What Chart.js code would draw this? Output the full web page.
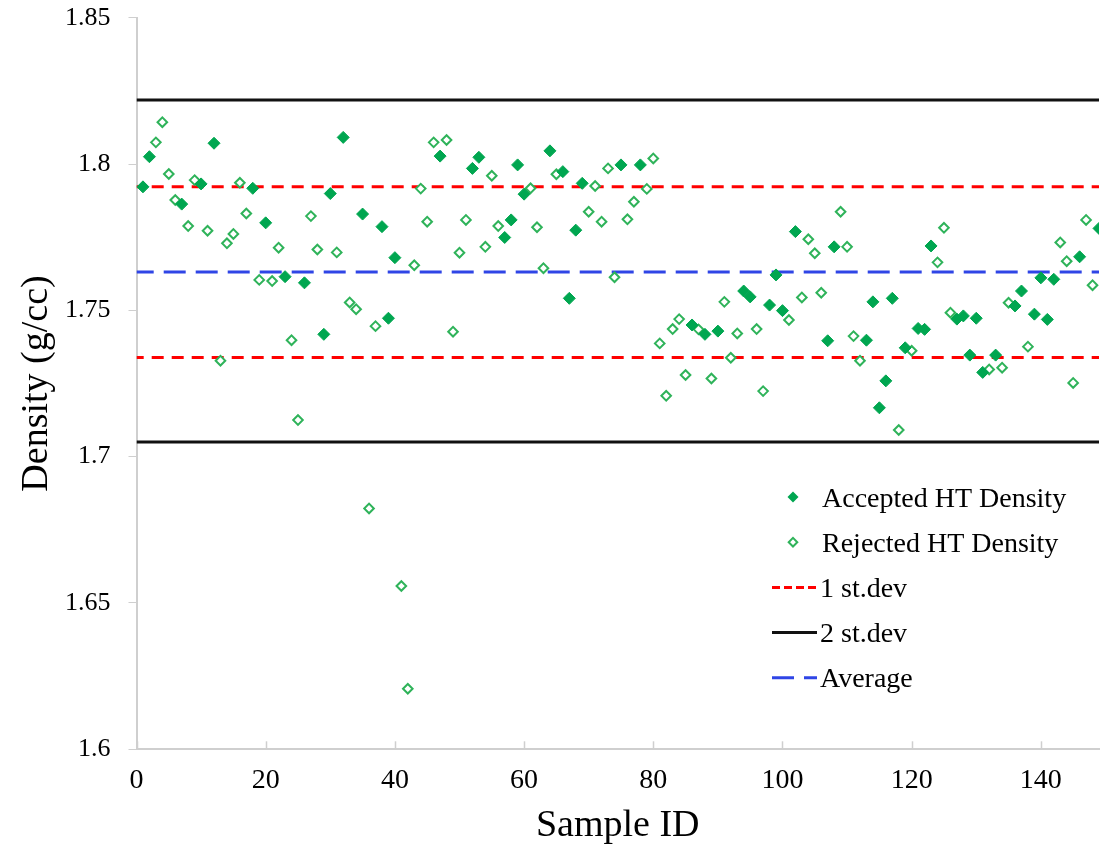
<!DOCTYPE html>
<html>
<head>
<meta charset="utf-8">
<script src="https://cdn.jsdelivr.net/npm/chart.js@4.4.1/dist/chart.umd.min.js"></script>
<style>
  html, body { margin: 0; padding: 0; background: #fff; }
  #wrap { width: 1106px; height: 849px; }
</style>
</head>
<body>
<div id="wrap"><canvas id="densityChart" width="1106" height="849"></canvas></div>
<script>
// Данные
const acceptedIds = [1, 2, 7, 10, 12, 18, 20, 23, 26, 29, 30, 32, 35, 38, 39, 40, 47, 52, 53, 57,
    58, 59, 60, 64, 66, 67, 68, 69, 75, 78, 86, 88, 90, 94, 95, 98, 99, 100, 102, 107,
    108, 113, 114, 115, 116, 117, 119, 121, 122, 123, 127, 128, 129, 130, 131, 133, 136, 137, 139, 140,
    141, 142, 146, 149];
const acceptedDensity = [1.7922, 1.8025, 1.7863, 1.7932, 1.8071, 1.7917, 1.7799, 1.7615, 1.7594, 1.7418,
    1.7899, 1.8091, 1.7829, 1.7786, 1.7473, 1.7680, 1.8027, 1.7985, 1.8023, 1.7749,
    1.7809, 1.7997, 1.7897, 1.8045, 1.7974, 1.7541, 1.7774, 1.7934, 1.7997, 1.7997,
    1.7450, 1.7418, 1.7429, 1.7566, 1.7546, 1.7518, 1.7621, 1.7499, 1.7769, 1.7396,
    1.7717, 1.7398, 1.7529, 1.7167, 1.7259, 1.7541, 1.7372, 1.7438, 1.7435, 1.7720,
    1.7470, 1.7481, 1.7347, 1.7473, 1.7288, 1.7347, 1.7515, 1.7566, 1.7487, 1.7611,
    1.7469, 1.7606, 1.7683, 1.7780];

const rejectedIds = [3, 4, 5, 6, 8, 9, 11, 13, 14, 15, 16, 17, 19, 21, 22, 24, 25, 27, 28, 31,
    33, 34, 36, 37, 41, 42, 43, 44, 45, 46, 48, 49, 50, 51, 54, 55, 56, 61, 62, 63,
    65, 70, 71, 72, 73, 74, 76, 77, 79, 80, 81, 82, 83, 84, 85, 87, 89, 91, 92, 93,
    96, 97, 101, 103, 104, 105, 106, 109, 110, 111, 112, 118, 120, 124, 125, 126, 132, 134, 135, 138,
    143, 144, 145, 147, 148];
const rejectedDensity = [1.8074, 1.8143, 1.7966, 1.7877, 1.7788, 1.7945, 1.7772, 1.7328, 1.7729, 1.7761,
    1.7936, 1.7831, 1.7604, 1.7600, 1.7714, 1.7398, 1.7125, 1.7822, 1.7708, 1.7698,
    1.7527, 1.7504, 1.6823, 1.7446, 1.6558, 1.6207, 1.7654, 1.7916, 1.7803, 1.8074,
    1.8082, 1.7427, 1.7697, 1.7809, 1.7717, 1.7960, 1.7788, 1.7917, 1.7784, 1.7644,
    1.7965, 1.7837, 1.7925, 1.7803, 1.7985, 1.7613, 1.7811, 1.7871, 1.7915, 1.8019,
    1.7387, 1.7208, 1.7436, 1.7470, 1.7279, 1.7435, 1.7267, 1.7529, 1.7338, 1.7421,
    1.7436, 1.7224, 1.7467, 1.7544, 1.7743, 1.7695, 1.7560, 1.7837, 1.7717, 1.7412,
    1.7328, 1.7091, 1.7362, 1.7664, 1.7782, 1.7492, 1.7298, 1.7304, 1.7526, 1.7376,
    1.7732, 1.7668, 1.7252, 1.7809, 1.7586];

// Уровни контрольных линий
const averageLevel = 1.7631;
const sd1Levels = [1.7922, 1.7339];
const sd2Levels = [1.8219, 1.7050];

// Оси и подписи делений
const xRange = [0, 149];
const xTickValues = [0, 20, 40, 60, 80, 100, 120, 140];
const yRange = [1.6, 1.85];
const yTickStep = 0.05;

const legendLabels = ['Accepted HT Density', 'Rejected HT Density', '1 st.dev', '2 st.dev', 'Average'];

const FONT = '"Liberation Serif", "Times New Roman", serif';
const GREEN_FILLED = '#00a650';
const GREEN_OPEN = '#2fb35a';
const RED = '#ff0000';
const BLUE = '#2f45e6';
const AXIS_GRAY = '#cfcfcf';

function toPoints(ids, values) {
    return ids.map((id, i) => ({ x: id, y: values[i] }));
}

function levelLine(level) {
    return [{ x: xRange[0], y: level }, { x: xRange[1], y: level }];
}

function lineDataset(label, level, color, dash) {
    return {
        label: label,
        data: levelLine(level),
        showLine: true,
        borderColor: color,
        borderWidth: 3,
        borderDash: dash,
        borderDashOffset: 4.8,
        pointRadius: 0,
        fill: false,
        clip: 0
    };
}

// Короткие засечки оси X внутрь области графика
const xInnerTicks = {
    id: 'xInnerTicks',
    afterDraw(chart) {
        const ctx = chart.ctx;
        const scale = chart.scales.x;
        const bottom = chart.chartArea.bottom;
        ctx.save();
        ctx.strokeStyle = AXIS_GRAY;
        ctx.lineWidth = 1.5;
        scale.ticks.forEach(t => {
            const px = Math.round(scale.getPixelForValue(t.value)) + 0.5;
            ctx.beginPath();
            ctx.moveTo(px, bottom);
            ctx.lineTo(px, bottom - 8);
            ctx.stroke();
        });
        ctx.restore();
    }
};

// Легенда справа внизу, как в исходнике
const sideLegend = {
    id: 'sideLegend',
    afterDraw(chart) {
        const ctx = chart.ctx;
        const startY = 497;
        const step = 45.2;
        ctx.save();
        ctx.font = '28px ' + FONT;
        ctx.fillStyle = '#000';
        ctx.textBaseline = 'alphabetic';
        legendLabels.forEach((text, i) => {
            const y = startY + i * step;
            if (i < 2) {
                const r = i === 0 ? 5.5 : 4.3;
                ctx.beginPath();
                ctx.moveTo(793 - r, y);
                ctx.lineTo(793, y - r);
                ctx.lineTo(793 + r, y);
                ctx.lineTo(793, y + r);
                ctx.closePath();
                if (i === 0) {
                    ctx.fillStyle = GREEN_FILLED;
                    ctx.fill();
                } else {
                    ctx.fillStyle = '#fff';
                    ctx.fill();
                    ctx.strokeStyle = GREEN_OPEN;
                    ctx.lineWidth = 2;
                    ctx.stroke();
                }
                ctx.fillStyle = '#000';
                ctx.fillText(text, 822, y + 9.5);
            } else {
                const colors = [RED, '#111', BLUE];
                const dashes = [[8, 4], [], [22, 10]];
                ctx.beginPath();
                ctx.setLineDash(dashes[i - 2]);
                ctx.strokeStyle = colors[i - 2];
                ctx.lineWidth = 3;
                ctx.moveTo(772, y);
                ctx.lineTo(817, y);
                ctx.stroke();
                ctx.setLineDash([]);
                ctx.fillText(text, 820, y + 9.5);
            }
        });
        ctx.restore();
    }
};

new Chart(document.getElementById('densityChart'), {
    type: 'scatter',
    data: {
        datasets: [
            {
                label: legendLabels[0],
                data: toPoints(acceptedIds, acceptedDensity),
                pointStyle: 'rectRot',
                pointRadius: 6,
                backgroundColor: GREEN_FILLED,
                borderColor: GREEN_FILLED,
                borderWidth: 1,
                clip: 0
            },
            {
                label: legendLabels[1],
                data: toPoints(rejectedIds, rejectedDensity),
                pointStyle: 'rectRot',
                pointRadius: 4.8,
                backgroundColor: '#ffffff',
                borderColor: GREEN_OPEN,
                borderWidth: 2,
                clip: 0
            },
            lineDataset('1 st.dev', sd1Levels[0], RED, [12, 8]),
            lineDataset('1 st.dev', sd1Levels[1], RED, [12, 8]),
            lineDataset('2 st.dev', sd2Levels[0], '#111', []),
            lineDataset('2 st.dev', sd2Levels[1], '#111', []),
            lineDataset('Average', averageLevel, BLUE, [22, 10])
        ]
    },
    options: {
        responsive: false,
        animation: false,
        devicePixelRatio: 1,
        layout: {
            padding: { top: 17.7, right: 0, left: 0, bottom: 0 }
        },
        plugins: {
            legend: { display: false },
            tooltip: { enabled: false }
        },
        scales: {
            x: {
                type: 'linear',
                min: xRange[0],
                max: xRange[1],
                afterBuildTicks: function(scale) {
                    scale.ticks = xTickValues.map(v => ({ value: v }));
                },
                afterFit: function(scale) {
                    scale.height = 99.7;
                    scale.paddingLeft = 0;
                    scale.paddingRight = 0;
                },
                ticks: {
                    color: '#000',
                    padding: 15,
                    maxRotation: 0,
                    autoSkip: false,
                    font: { family: FONT, size: 28 }
                },
                grid: {
                    drawOnChartArea: false,
                    drawTicks: false
                },
                border: { color: AXIS_GRAY, width: 2 },
                title: {
                    display: true,
                    text: 'Sample ID',
                    color: '#000',
                    padding: { top: 0, bottom: 0 },
                    font: { family: FONT, size: 38 }
                }
            },
            y: {
                min: yRange[0],
                max: yRange[1],
                afterFit: function(scale) {
                    scale.width = 136.5;
                    // убираем лишний отступ сверху под подпись 1.85
                    scale.paddingTop = 0;
                    scale.paddingBottom = 0;
                },
                ticks: {
                    stepSize: yTickStep,
                    color: '#000',
                    padding: 18,
                    font: { family: FONT, size: 26 },
                    callback: function(value) {
                        return String(Number(value.toFixed(2)));
                    }
                },
                grid: {
                    drawOnChartArea: false,
                    drawTicks: true,
                    tickLength: 8,
                    color: AXIS_GRAY
                },
                border: { color: AXIS_GRAY, width: 2 },
                title: {
                    display: true,
                    text: 'Density (g/cc)',
                    color: '#000',
                    padding: { top: 14, bottom: 0 },
                    font: { family: FONT, size: 38 }
                }
            }
        }
    },
    plugins: [xInnerTicks, sideLegend]
});
</script>
</body>
</html>
